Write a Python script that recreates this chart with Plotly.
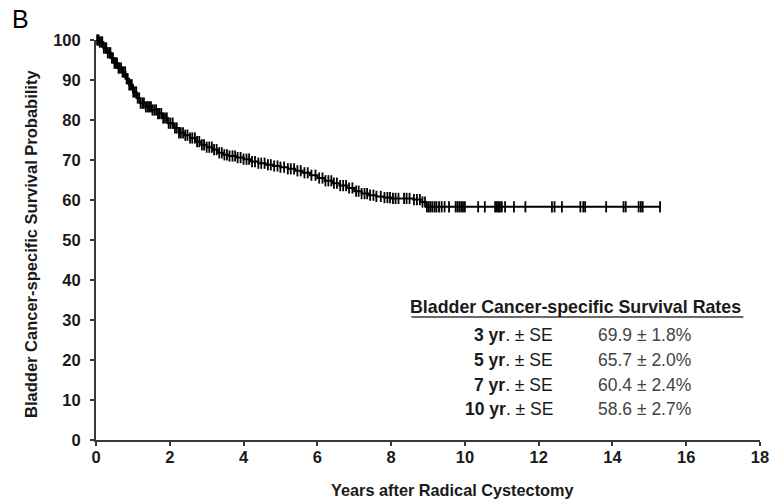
import numpy as np
import plotly.graph_objects as go

# Kaplan-Meier estimate: times (years) and cancer-specific survival (%) after each step
km_time = [0, 0.1, 0.2, 0.3, 0.4, 0.5, 0.6, 0.7, 0.8, 0.9, 1.0, 1.1, 1.2, 1.35, 1.5,
           1.65, 1.8, 1.95, 2.1, 2.25, 2.4, 2.55, 2.7, 2.85, 3.0, 3.15, 3.3, 3.45,
           3.6, 3.8, 4.0, 4.2, 4.4, 4.6, 4.8, 5.0, 5.2, 5.4, 5.6, 5.8, 6.0, 6.2,
           6.4, 6.6, 6.8, 7.0, 7.2, 7.4, 7.6, 7.8, 8.0, 8.6, 8.8, 8.95, 15.29]
km_surv = [100, 99.5, 98, 96.8, 95.5, 94.2, 93, 92, 90.3, 88.8, 87, 85.5, 84.2, 83.3,
           82.5, 81.6, 80.5, 79.2, 78, 76.8, 76.2, 75.5, 74.6, 73.8, 73.2, 72.6,
           71.8, 71.3, 71, 70.6, 70.2, 69.6, 69.2, 68.8, 68.5, 68.2, 67.8, 67.3,
           66.8, 66.2, 65.5, 64.8, 64.2, 63.6, 63, 62.2, 61.6, 61.2, 60.9, 60.6,
           60.4, 60.1, 59.5, 58.3, 58.3]

# Censored observations (years)
censor_time = [0.03, 0.07, 0.1, 0.14, 0.17, 0.21, 0.25, 0.28, 0.32, 0.36, 0.39, 0.43,
               0.46, 0.5, 0.54, 0.57, 0.61, 0.64, 0.68, 0.72, 0.75, 0.79, 0.83, 0.86,
               0.9, 0.93, 0.97, 1.01, 1.05, 1.09, 1.13, 1.17, 1.21, 1.26, 1.3, 1.35,
               1.4, 1.44, 1.49, 1.53, 1.58, 1.63, 1.68, 1.72, 1.77, 1.82, 1.87, 1.92,
               1.97, 2.02, 2.08, 2.14, 2.19, 2.25, 2.3, 2.36, 2.42, 2.48, 2.55, 2.61,
               2.68, 2.74, 2.8, 2.87, 2.93, 3.0, 3.07, 3.14, 3.2, 3.27, 3.34, 3.41,
               3.48, 3.55, 3.62, 3.7, 3.77, 3.84, 3.92, 4.0, 4.08, 4.15, 4.23, 4.31,
               4.4, 4.48, 4.57, 4.66, 4.74, 4.83, 4.92, 5.0, 5.1, 5.2, 5.28, 5.37,
               5.46, 5.55, 5.65, 5.74, 5.84, 5.95, 6.05, 6.14, 6.22, 6.3, 6.38, 6.45,
               6.53, 6.62, 6.7, 6.78, 6.86, 6.95, 7.05, 7.12, 7.2, 7.28, 7.35, 7.43,
               7.52, 7.6, 7.72, 7.82, 7.9, 7.97, 8.05, 8.12, 8.2, 8.35, 8.42, 8.5,
               8.62, 8.7, 8.78, 8.85, 8.92, 8.97, 9.02, 9.07, 9.12, 9.18, 9.23, 9.3,
               9.37, 9.45, 9.57, 9.75, 9.8, 9.85, 9.9, 9.95, 10.0, 10.36, 10.54,
               10.82, 10.86, 10.9, 10.95, 11.0, 11.09, 11.33, 11.64, 12.36, 12.43,
               12.63, 13.13, 13.21, 13.26, 13.83, 14.3, 14.36, 14.71, 14.77, 14.82,
               15.29]

# Survival-rate table
rate_years = ["3", "5", "7", "10"]
rate_values = ["69.9 ± 1.8%", "65.7 ± 2.0%", "60.4 ± 2.4%", "58.6 ± 2.7%"]

x_ticks = [0, 2, 4, 6, 8, 10, 12, 14, 16, 18]
y_ticks = [0, 10, 20, 30, 40, 50, 60, 70, 80, 90, 100]

# survival level at each censoring time, read from the step function
idx = np.searchsorted(np.array(km_time), np.array(censor_time), side="right") - 1
censor_surv = np.array(km_surv)[idx]

FONT = "Liberation Sans, Arial, sans-serif"

fig = go.Figure()
fig.add_trace(go.Scatter(
    x=km_time, y=km_surv, mode="lines", line=dict(color="black", width=2, shape="hv"),
    cliponaxis=False, hoverinfo="skip", showlegend=False))
fig.add_trace(go.Scatter(
    x=censor_time, y=censor_surv, mode="markers",
    marker=dict(symbol="line-ns", size=8, line=dict(color="black", width=1.8)),
    cliponaxis=False, showlegend=False))

axis_common = dict(
    showline=True, linecolor="#3a3a3a", linewidth=2, showgrid=False, zeroline=False,
    ticks="outside", ticklen=4, tickwidth=1.5, tickcolor="#3a3a3a",
    tickfont=dict(family=FONT, size=16.5, color="#1a1a1a", weight="bold"),
)

fig.update_layout(
    width=781, height=499,
    margin=dict(l=96, r=13, t=40, b=59),
    paper_bgcolor="white", plot_bgcolor="white",
    xaxis=dict(range=[0, 18], tickvals=x_ticks, ticklabelstandoff=-3, **axis_common),
    yaxis=dict(range=[0, 100], tickvals=y_ticks, ticklabelstandoff=6, **axis_common),
)

annotations = [
    dict(text="B", xref="paper", yref="paper", x=-0.114, y=1.0, yshift=21,
         xanchor="center", yanchor="middle", showarrow=False,
         font=dict(family=FONT, size=25, color="black")),
    dict(text="<b>Bladder Cancer-specific Survival Probability</b>", xref="paper",
         yref="paper", x=-0.098, y=0.49, textangle=-90, xanchor="center",
         yanchor="middle", showarrow=False, font=dict(family=FONT, size=16.5, color="#1a1a1a")),
    dict(text="<b>Years after Radical Cystectomy</b>", xref="paper", yref="paper",
         x=0.537, y=0, yshift=-50, xanchor="center", yanchor="middle", showarrow=False,
         font=dict(family=FONT, size=16.3, color="#1a1a1a")),
    dict(text="<b>Bladder Cancer-specific Survival Rates</b>", xref="x", yref="y",
         x=13.0, y=33.25, xanchor="center", yanchor="middle", showarrow=False,
         font=dict(family=FONT, size=17.8, color="#1a1a1a")),
]
row_y = [26.25, 20.0, 13.75, 7.75]
for yr, val, yy in zip(rate_years, rate_values, row_y):
    annotations.append(dict(
        text=f"<b>{yr} yr</b>. ± SE", xref="x", yref="y", x=12.43, y=yy,
        xanchor="right", yanchor="middle", showarrow=False,
        font=dict(family=FONT, size=17.5, color="#1a1a1a")))
    annotations.append(dict(
        text=val, xref="x", yref="y", x=13.55, y=yy, xanchor="left", yanchor="middle",
        showarrow=False, font=dict(family=FONT, size=17.5, color="#444444")))
fig.update_layout(annotations=annotations)

# rule under the table header
fig.add_shape(type="line", xref="x", yref="y", x0=8.55, x1=17.55, y0=30.75, y1=30.75,
              line=dict(color="#3a3a3a", width=1.5))

fig.write_html("out.html")
